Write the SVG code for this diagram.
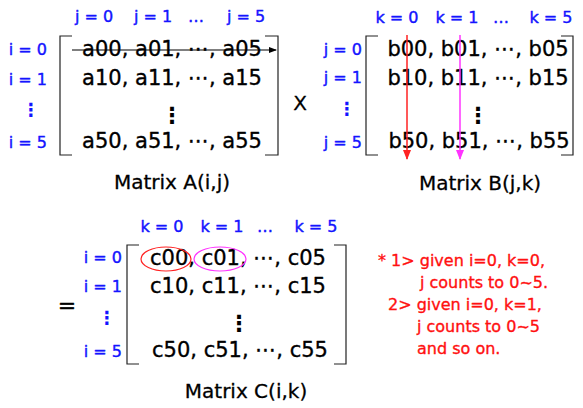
<svg xmlns="http://www.w3.org/2000/svg" width="583" height="408" viewBox="0 0 583 408">
<style>
text{font-family:"DejaVu Sans","Liberation Sans",sans-serif;stroke-linejoin:round;}
.m{font-size:21px;fill:#000;stroke:#000;stroke-width:0.35;text-anchor:middle;}
.b{font-size:16px;fill:#1414ff;stroke:#1414ff;stroke-width:0.4;}
.bc{font-size:16px;fill:#1414ff;stroke:#1414ff;stroke-width:0.4;text-anchor:middle;}
.br{font-size:16px;fill:#1414ff;stroke:#1414ff;stroke-width:0.4;text-anchor:end;}
.vd{font-size:18px;font-weight:bold;fill:#1414ff;text-anchor:middle;}
.vm{font-size:22px;font-weight:bold;fill:#000;text-anchor:middle;}
.t{font-size:20px;fill:#000;stroke:#000;stroke-width:0.3;text-anchor:middle;}
.r{font-size:16px;fill:#ff1010;stroke:#ff1010;stroke-width:0.35;}
.op{font-size:20px;fill:#000;stroke:#000;stroke-width:0.3;text-anchor:middle;}
.brk{fill:none;stroke:#222;stroke-width:1.2;}
</style>
<defs>
<marker id="ak" markerWidth="8" markerHeight="8" refX="7" refY="4" orient="auto" markerUnits="userSpaceOnUse"><path d="M0,1 L8,4 L0,7 Z" fill="#000"/></marker>
<marker id="ar" markerWidth="10" markerHeight="10" refX="9" refY="5" orient="auto" markerUnits="userSpaceOnUse"><path d="M0,1 L10,5 L0,9 Z" fill="#ff2222"/></marker>
<marker id="am" markerWidth="10" markerHeight="10" refX="9" refY="5" orient="auto" markerUnits="userSpaceOnUse"><path d="M0,1 L10,5 L0,9 Z" fill="#ff33ff"/></marker>
</defs>
<rect width="583" height="408" fill="#fff"/>

<g id="matrixA">
<text class="bc" x="94" y="22">j = 0</text>
<text class="bc" x="153" y="22">j = 1</text>
<text class="bc" x="196" y="22">…</text>
<text class="bc" x="246" y="22">j = 5</text>
<text class="br" x="47" y="55">i = 0</text>
<text class="br" x="47" y="85">i = 1</text>
<text class="vd" x="31" y="116">⋮</text>
<text class="br" x="47" y="148">i = 5</text>
<path class="brk" d="M72,36 H60 V155 H72 M265,36 H278 V155 H265"/>
<text class="m" x="172" y="56">a00, a01, ⋯, a05</text>
<text class="m" x="172" y="85">a10, a11, ⋯, a15</text>
<text class="vm" x="172" y="123">⋮</text>
<text class="m" x="172" y="148">a50, a51, ⋯, a55</text>
<text class="t" x="172" y="189">Matrix A(i,j)</text>
</g>

<g id="opX">
<text class="op" x="300" y="110">X</text>
</g>

<g id="matrixB">
<text class="bc" x="397" y="23">k = 0</text>
<text class="bc" x="457" y="23">k = 1</text>
<text class="bc" x="501" y="23">…</text>
<text class="bc" x="551" y="23">k = 5</text>
<text class="br" x="362" y="55">j = 0</text>
<text class="br" x="362" y="83">j = 1</text>
<text class="vd" x="347" y="115">⋮</text>
<text class="br" x="362" y="148">j = 5</text>
<path class="brk" d="M378,36 H366 V155 H378 M561,36 H573 V155 H561"/>
<text class="m" x="478" y="56">b00, b01, ⋯, b05</text>
<text class="m" x="478" y="85">b10, b11, ⋯, b15</text>
<text class="vm" x="478" y="123">⋮</text>
<text class="m" x="479" y="148">b50, b51, ⋯, b55</text>
<text class="t" x="480" y="190">Matrix B(j,k)</text>
</g>

<g id="opEq">
<text class="op" x="67" y="313" style="font-size:22px">=</text>
</g>

<g id="matrixC">
<text class="bc" x="162" y="232">k = 0</text>
<text class="bc" x="222" y="232">k = 1</text>
<text class="bc" x="265" y="232">…</text>
<text class="bc" x="316" y="232">k = 5</text>
<text class="br" x="122" y="263">i = 0</text>
<text class="br" x="122" y="292">i = 1</text>
<text class="vd" x="107" y="324">⋮</text>
<text class="br" x="122" y="357">i = 5</text>
<path class="brk" d="M139,245 H127 V364 H139 M334,245 H346 V364 H334"/>
<text class="m" x="238" y="265">c00, c01, ⋯, c05</text>
<text class="m" x="238" y="293">c10, c11, ⋯, c15</text>
<text class="vm" x="239" y="331">⋮</text>
<text class="m" x="240" y="357">c50, c51, ⋯, c55</text>
<text class="t" x="246" y="398">Matrix C(i,k)</text>
</g>

<g id="note">
<text class="r" x="378" y="266">* 1&gt; given i=0, k=0,</text>
<text class="r" x="420" y="288">j counts to 0~5.</text>
<text class="r" x="388" y="310">2&gt; given i=0, k=1,</text>
<text class="r" x="417" y="332">j counts to 0~5</text>
<text class="r" x="417" y="354">and so on.</text>
</g>

<g id="connectors">
<line x1="72" y1="50" x2="276" y2="50" stroke="#000" stroke-width="1.2" marker-end="url(#ak)"/>
<line x1="407" y1="35" x2="407" y2="159" stroke="#ff2222" stroke-width="1.5" marker-end="url(#ar)"/>
<line x1="460" y1="35" x2="460" y2="159" stroke="#ff33ff" stroke-width="1.5" marker-end="url(#am)"/>
<ellipse cx="166" cy="259" rx="25" ry="12" fill="none" stroke="#ff2222" stroke-width="1.2"/>
<ellipse cx="220" cy="259" rx="26" ry="12" fill="none" stroke="#ff33ff" stroke-width="1.2"/>
</g>
</svg>
